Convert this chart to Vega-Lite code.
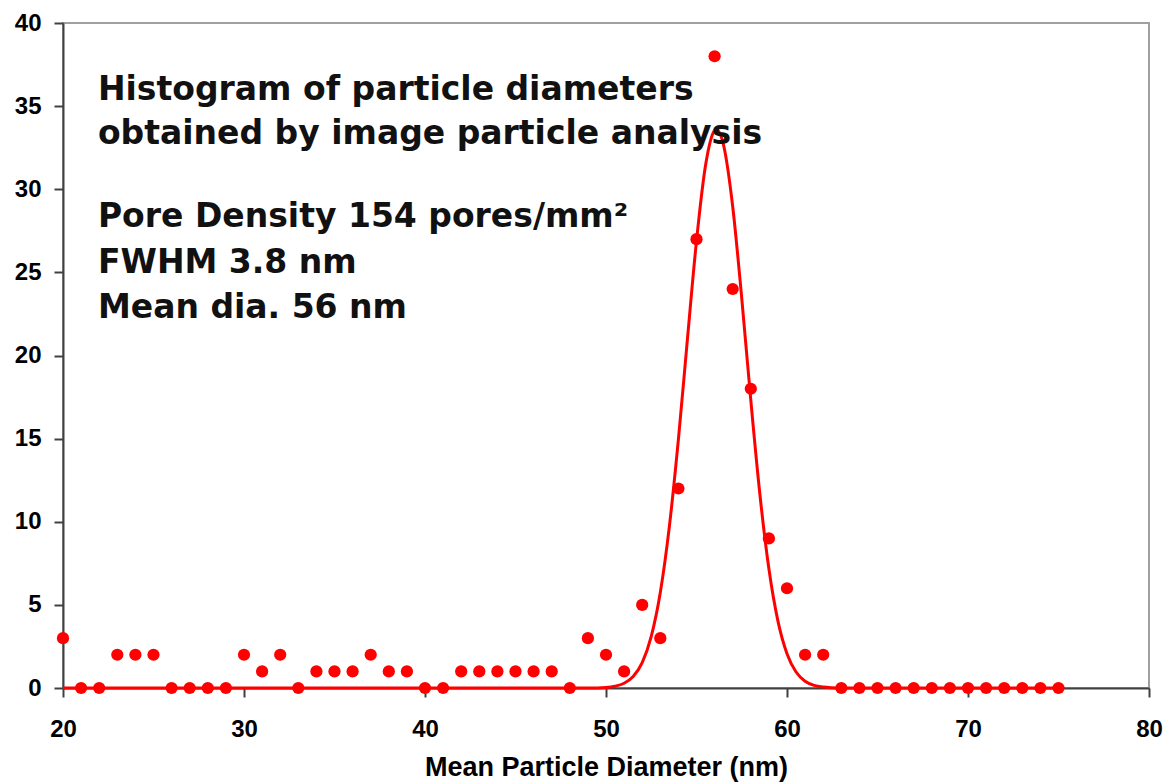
{
  "$schema": "https://vega.github.io/schema/vega-lite/v6.json",
  "autosize": "none",
  "width": 1086,
  "height": 665,
  "padding": {"left": 63, "top": 23, "right": 18, "bottom": 96},
  "background": "white",
  "config": {
    "view": {"stroke": "#a0a0a0", "strokeWidth": 2},
    "axis": {
      "grid": false,
      "domainColor": "#404040",
      "domainWidth": 2,
      "tickColor": "#404040",
      "tickWidth": 2,
      "tickSize": 9,
      "labelFont": "Liberation Sans",
      "labelFontWeight": "bold",
      "labelFontSize": 24,
      "labelColor": "#000000",
      "labelFlush": false,
      "titleFont": "Liberation Sans",
      "titleFontWeight": "bold",
      "titleFontSize": 27,
      "titleColor": "#000000"
    }
  },
  "datasets": {
    "counts": [
      {"diameter": 20, "count": 3}, {"diameter": 21, "count": 0}, {"diameter": 22, "count": 0},
      {"diameter": 23, "count": 2}, {"diameter": 24, "count": 2}, {"diameter": 25, "count": 2},
      {"diameter": 26, "count": 0}, {"diameter": 27, "count": 0}, {"diameter": 28, "count": 0},
      {"diameter": 29, "count": 0}, {"diameter": 30, "count": 2}, {"diameter": 31, "count": 1},
      {"diameter": 32, "count": 2}, {"diameter": 33, "count": 0}, {"diameter": 34, "count": 1},
      {"diameter": 35, "count": 1}, {"diameter": 36, "count": 1}, {"diameter": 37, "count": 2},
      {"diameter": 38, "count": 1}, {"diameter": 39, "count": 1}, {"diameter": 40, "count": 0},
      {"diameter": 41, "count": 0}, {"diameter": 42, "count": 1}, {"diameter": 43, "count": 1},
      {"diameter": 44, "count": 1}, {"diameter": 45, "count": 1}, {"diameter": 46, "count": 1},
      {"diameter": 47, "count": 1}, {"diameter": 48, "count": 0}, {"diameter": 49, "count": 3},
      {"diameter": 50, "count": 2}, {"diameter": 51, "count": 1}, {"diameter": 52, "count": 5},
      {"diameter": 53, "count": 3}, {"diameter": 54, "count": 12}, {"diameter": 55, "count": 27},
      {"diameter": 56, "count": 38}, {"diameter": 57, "count": 24}, {"diameter": 58, "count": 18},
      {"diameter": 59, "count": 9}, {"diameter": 60, "count": 6}, {"diameter": 61, "count": 2},
      {"diameter": 62, "count": 2}, {"diameter": 63, "count": 0}, {"diameter": 64, "count": 0},
      {"diameter": 65, "count": 0}, {"diameter": 66, "count": 0}, {"diameter": 67, "count": 0},
      {"diameter": 68, "count": 0}, {"diameter": 69, "count": 0}, {"diameter": 70, "count": 0},
      {"diameter": 71, "count": 0}, {"diameter": 72, "count": 0}, {"diameter": 73, "count": 0},
      {"diameter": 74, "count": 0}, {"diameter": 75, "count": 0}
    ],
    "fit": [
      {"diameter": 20, "count": 0}, {"diameter": 40, "count": 0}, {"diameter": 48, "count": 0},
      {"diameter": 49, "count": 0.003}, {"diameter": 50, "count": 0.036}, {"diameter": 50.5, "count": 0.106},
      {"diameter": 51, "count": 0.283}, {"diameter": 51.5, "count": 0.69}, {"diameter": 52, "count": 1.53},
      {"diameter": 52.5, "count": 3.11}, {"diameter": 53, "count": 5.75}, {"diameter": 53.5, "count": 9.71},
      {"diameter": 54, "count": 14.95}, {"diameter": 54.5, "count": 21.0}, {"diameter": 55, "count": 26.9},
      {"diameter": 55.5, "count": 31.45}, {"diameter": 56, "count": 33.54}, {"diameter": 56.1, "count": 33.6},
      {"diameter": 56.5, "count": 32.63}, {"diameter": 57, "count": 28.96}, {"diameter": 57.5, "count": 23.44},
      {"diameter": 58, "count": 17.31}, {"diameter": 58.5, "count": 11.67}, {"diameter": 59, "count": 7.17},
      {"diameter": 59.5, "count": 4.02}, {"diameter": 60, "count": 2.06}, {"diameter": 60.5, "count": 0.96},
      {"diameter": 61, "count": 0.41}, {"diameter": 61.5, "count": 0.159}, {"diameter": 62, "count": 0.056},
      {"diameter": 62.5, "count": 0.018}, {"diameter": 63, "count": 0.005}, {"diameter": 64, "count": 0},
      {"diameter": 75, "count": 0}
    ]
  },
  "layer": [
    {
      "data": {"name": "fit"},
      "mark": {"type": "line", "color": "#ff0000", "strokeWidth": 3, "interpolate": "monotone"},
      "encoding": {
        "x": {
          "field": "diameter", "type": "quantitative",
          "scale": {"domain": [20, 80], "nice": false},
          "axis": {"values": [20, 30, 40, 50, 60, 70, 80], "labelPadding": 20, "title": "Mean Particle Diameter (nm)", "titlePadding": 13}
        },
        "y": {
          "field": "count", "type": "quantitative",
          "scale": {"domain": [0, 40], "nice": false},
          "axis": {"values": [0, 5, 10, 15, 20, 25, 30, 35, 40], "labelPadding": 13, "title": null}
        }
      }
    },
    {
      "data": {"name": "counts"},
      "mark": {"type": "point", "filled": true, "shape": "circle", "color": "#ff0000", "opacity": 1, "size": 150},
      "encoding": {
        "x": {"field": "diameter", "type": "quantitative"},
        "y": {"field": "count", "type": "quantitative"}
      }
    },
    {
      "data": {"values": [{}]},
      "mark": {
        "type": "text",
        "text": ["Histogram of particle diameters", "obtained by image particle analysis"],
        "align": "left", "baseline": "alphabetic",
        "font": "DejaVu Sans", "fontWeight": "bold", "fontSize": 33, "lineHeight": 44,
        "color": "#111111"
      },
      "encoding": {
        "x": {"datum": 21.93, "type": "quantitative"},
        "y": {"datum": 35.39, "type": "quantitative"}
      }
    },
    {
      "data": {"values": [{}]},
      "mark": {
        "type": "text",
        "text": ["Pore Density 154 pores/mm²", "FWHM 3.8 nm", "Mean dia. 56 nm"],
        "align": "left", "baseline": "alphabetic",
        "font": "DejaVu Sans", "fontWeight": "bold", "fontSize": 33, "lineHeight": 45.5,
        "color": "#111111"
      },
      "encoding": {
        "x": {"datum": 21.93, "type": "quantitative"},
        "y": {"datum": 27.72, "type": "quantitative"}
      }
    }
  ]
}
